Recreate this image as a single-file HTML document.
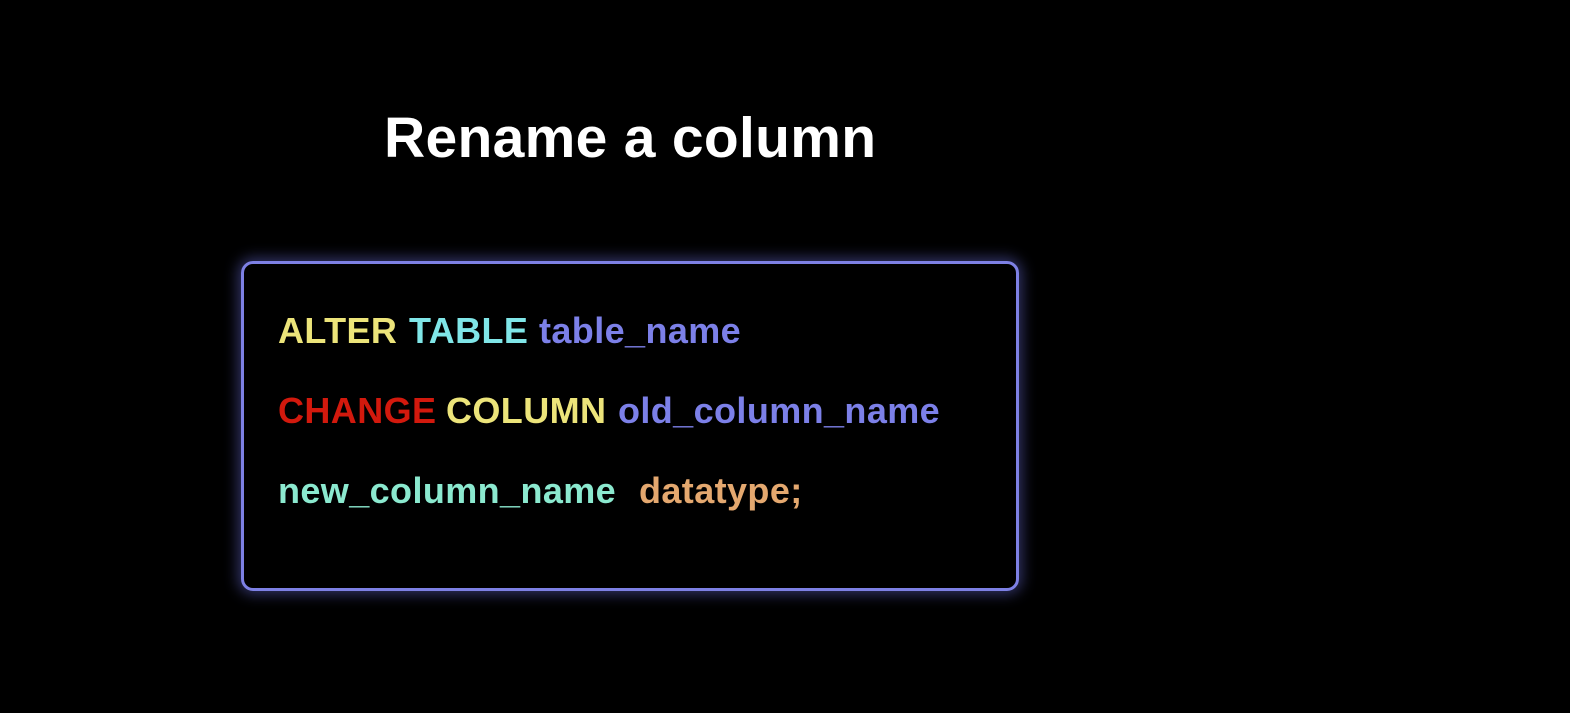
<!DOCTYPE html>
<html><head><style>
html,body{margin:0;padding:0;background:#000;width:1570px;height:713px;overflow:hidden;font-family:"Liberation Sans",sans-serif;font-weight:bold;}
.t{position:absolute;left:384px;top:105px;font-size:57px;color:#fff;white-space:nowrap;letter-spacing:0.3px}
.box{position:absolute;left:241px;top:261px;width:772px;height:324px;border:3px solid #7d80e4;border-radius:12px;box-shadow:0 0 14px 3px rgba(110,115,230,0.45);}
.w{position:absolute;font-size:36px;white-space:nowrap;letter-spacing:0.4px}
.y{color:#ece47a}.c{color:#80e6e8}.p{color:#7c80e8}.r{color:#d2190d}.g{color:#8be9cf}.o{color:#e4a86f}
</style></head><body>
<div class="t">Rename a column</div>
<div class="box"></div>
<div class="w y" style="top:310px;left:278px">ALTER</div>
<div class="w c" style="top:310px;left:409px">TABLE</div>
<div class="w p" style="top:310px;left:539px">table_name</div>
<div class="w r" style="top:390px;left:278px">CHANGE</div>
<div class="w y" style="top:390px;left:446px">COLUMN</div>
<div class="w p" style="top:390px;left:618px">old_column_name</div>
<div class="w g" style="top:470px;left:278px">new_column_name</div>
<div class="w o" style="top:470px;left:639px">datatype;</div>
</body></html>
